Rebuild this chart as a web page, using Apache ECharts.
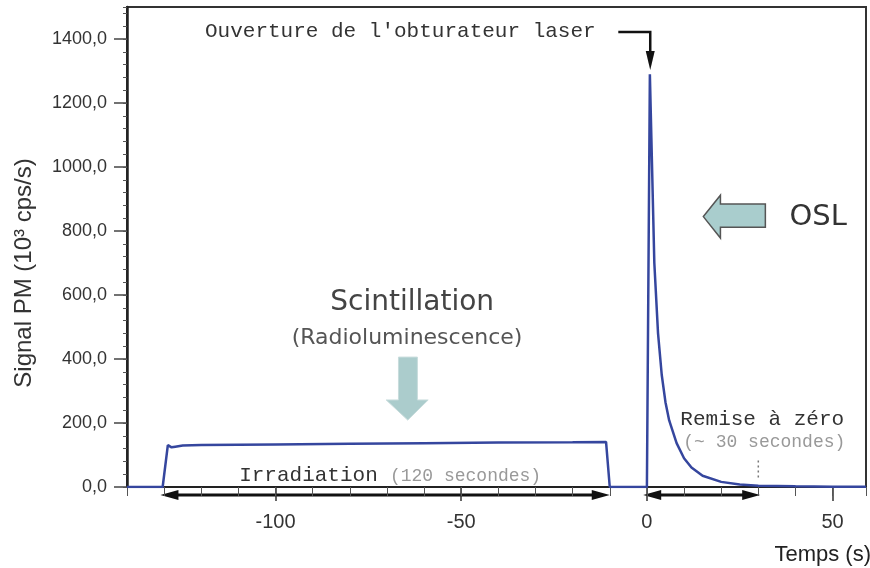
<!DOCTYPE html>
<html><head><meta charset="utf-8">
<script src="https://cdn.jsdelivr.net/npm/echarts@6/dist/echarts.min.js"></script>
<style>html,body{margin:0;padding:0;background:#fff}#c{width:870px;height:568px}</style>
</head><body><div id="c"></div>
<script>
// ---- data ----
const timeS  = [-140, -131, -130.4, -129, -128, -127, -125, -120, -100, -80, -60, -40, -20, -11, -10, 0, 0.8, 2, 3, 4, 5, 6, 8, 10, 12, 15, 20, 25, 30, 40, 50, 59];
const signal = [0, 0, 0, 131, 124, 126, 130, 131, 133, 135, 137, 139, 140, 141, 0, 0, 1290, 700, 480, 350, 265, 208, 137, 90, 61, 35, 16, 8, 4, 2, 1, 1];
const xTickValues = [-100, -50, 0, 50];
const yTickValues = [0, 200, 400, 600, 800, 1000, 1200, 1400];
const xMin = -140, xMax = 59, yMin = 0, yMax = 1500;

// ---- annotation texts ----
const txtLaser = "Ouverture de l'obturateur laser";
const txtOSL = "OSL";
const txtScint = "Scintillation";
const txtRadio = "(Radioluminescence)";
const txtIrr = "Irradiation";
const txtIrrDur = "(120 secondes)";
const txtReset = "Remise à zéro";
const txtResetDur = "(~ 30 secondes)";
const txtYName = "Signal PM (10³ cps/s)";
const txtXName = "Temps (s)";

const chart = echarts.init(document.getElementById('c'), null, {renderer: 'canvas'});
const fmt = v => v.toFixed(1).replace('.', ',');
const axisFont = 'Liberation Sans';

chart.setOption({
  animation: false,
  backgroundColor: '#fff',
  grid: {left: 127, right: 4, top: 7, bottom: 81, show: true, borderColor: '#333', borderWidth: 2},
  xAxis: [
    {type: 'value', min: xMin, max: xMax, position: 'bottom',
     axisLine: {show: true, onZero: false, lineStyle: {color: '#222', width: 2}},
     axisTick: {show: true, customValues: xTickValues, length: 14, lineStyle: {color: '#333', width: 1.5}},
     axisLabel: {show: true, customValues: xTickValues, margin: 25, fontSize: 20, fontFamily: axisFont, color: '#333'},
     splitLine: {show: false}},
    {type: 'value', min: xMin, max: xMax, interval: 10, position: 'bottom',
     axisLine: {show: false, onZero: false},
     axisTick: {show: true, length: 9, lineStyle: {color: '#555', width: 1}},
     axisLabel: {show: false}, splitLine: {show: false}}
  ],
  yAxis: [
    {type: 'value', min: yMin, max: yMax, position: 'left',
     axisLine: {show: true, onZero: false, lineStyle: {color: '#222', width: 2.5}},
     axisTick: {show: true, customValues: yTickValues, length: 13, lineStyle: {color: '#444', width: 1.5}},
     axisLabel: {show: true, customValues: yTickValues, formatter: fmt, margin: 20, fontSize: 18, fontFamily: axisFont, color: '#333'},
     splitLine: {show: false}},
    {type: 'value', min: yMin, max: yMax, interval: 40, position: 'left',
     axisLine: {show: false, onZero: false},
     axisTick: {show: true, length: 4, lineStyle: {color: '#555', width: 1}},
     axisLabel: {show: false}, splitLine: {show: false}}
  ],
  series: [{
    type: 'line', xAxisIndex: 0, yAxisIndex: 0,
    data: timeS.map((t, i) => [t, signal[i]]),
    showSymbol: false, symbol: 'none', smooth: false,
    lineStyle: {color: '#35469e', width: 2.5}
  }]
});

// ---- annotations, positioned through the chart's own scales ----
const P = (x, y) => chart.convertToPixel({seriesIndex: 0}, [x, y]);
const G = [];
function tri(tip, dx, dy, len, half) { // tip point, direction unit vector
  const bx = tip[0] - dx * len, by = tip[1] - dy * len;
  return [[tip[0], tip[1]], [bx - dy * half, by + dx * half], [bx + dy * half, by - dx * half]];
}
function hArrow(x0, x1, yv, both) {
  const a = P(x0, yv), b = P(x1, yv);
  G.push({type: 'polyline', shape: {points: [[a[0] + 8, a[1]], [b[0] - 8, b[1]]]}, style: {stroke: '#111', lineWidth: 3, fill: null}});
  G.push({type: 'polygon', shape: {points: tri(b, 1, 0, 18, 5)}, style: {fill: '#111'}});
  if (both) G.push({type: 'polygon', shape: {points: tri(a, -1, 0, 18, 5)}, style: {fill: '#111'}});
}
hArrow(-131, -10, -25, true);
hArrow(-1, 30.5, -25, true);

// dotted marker at end of reset
{
  const a = P(30, 30), b = P(30, 85);
  G.push({type: 'line', shape: {x1: a[0], y1: a[1], x2: b[0], y2: b[1]}, style: {stroke: '#777', lineWidth: 1.5, lineDash: [2, 3]}});
}

// laser shutter arrow
{
  const a = P(-7.7, 1422), c = P(0.9, 1422), d = P(0.9, 1359), tip = P(0.9, 1303);
  G.push({type: 'polyline', shape: {points: [a, c, d]}, style: {stroke: '#111', lineWidth: 2.5, fill: null}});
  G.push({type: 'polygon', shape: {points: tri(tip, 0, 1, tip[1] - d[1] + 1, 4.5)}, style: {fill: '#111'}});
}

// OSL block arrow (pointing left)
{
  const pts = [[31.9, 884], [19.8, 884], [19.8, 912], [15.2, 845], [19.8, 778], [19.8, 812], [31.9, 812]].map(p => P(p[0], p[1]));
  G.push({type: 'polygon', shape: {points: pts}, style: {fill: '#a9cdcd', stroke: '#555', lineWidth: 1.5}});
}
// Scintillation block arrow (pointing down)
{
  const pts = [[-66.9, 406], [-61.8, 406], [-61.8, 272], [-58.9, 272], [-64.4, 209], [-70.2, 272], [-66.9, 272]].map(p => P(p[0], p[1]));
  G.push({type: 'polygon', shape: {points: pts}, style: {fill: '#abcccc', stroke: '#c8dcdc', lineWidth: 1}});
}

function text(str, xv, yv, opt) {
  const p = P(xv, yv);
  G.push({type: 'text', x: p[0], y: p[1], style: Object.assign({text: str, align: 'left', verticalAlign: 'middle'}, opt)});
}
const mono = 'Liberation Mono';
text(txtLaser, -119, 1425, {fontFamily: mono, fontSize: 21, fill: '#333'});
text(txtOSL, 38.4, 841, {fontFamily: 'DejaVu Sans', fontSize: 29, fill: '#333'});
text(txtScint, -63.2, 575, {fontFamily: 'DejaVu Sans', fontSize: 28, fill: '#444', align: 'center'});
text(txtRadio, -64.6, 466, {fontFamily: 'DejaVu Sans', fontSize: 22, fill: '#555', align: 'center'});
text(txtIrr, -109.8, 37, {fontFamily: mono, fontSize: 21, fill: '#333'});
text(txtIrrDur, -69.2, 34, {fontFamily: mono, fontSize: 18, fill: '#999'});
text(txtReset, 9, 212, {fontFamily: mono, fontSize: 21, fill: '#333'});
text(txtResetDur, 9.8, 140, {fontFamily: mono, fontSize: 18, fill: '#999'});

// axis names
G.push({type: 'text', x: 24, y: 273, rotation: Math.PI / 2,
  style: {text: txtYName, fontFamily: axisFont, fontSize: 24, fill: '#333', align: 'center', verticalAlign: 'middle'}});
G.push({type: 'text', x: 871, y: 555,
  style: {text: txtXName, fontFamily: axisFont, fontSize: 22, fill: '#222', align: 'right', verticalAlign: 'middle'}});

chart.setOption({graphic: G});
</script>
</body></html>
